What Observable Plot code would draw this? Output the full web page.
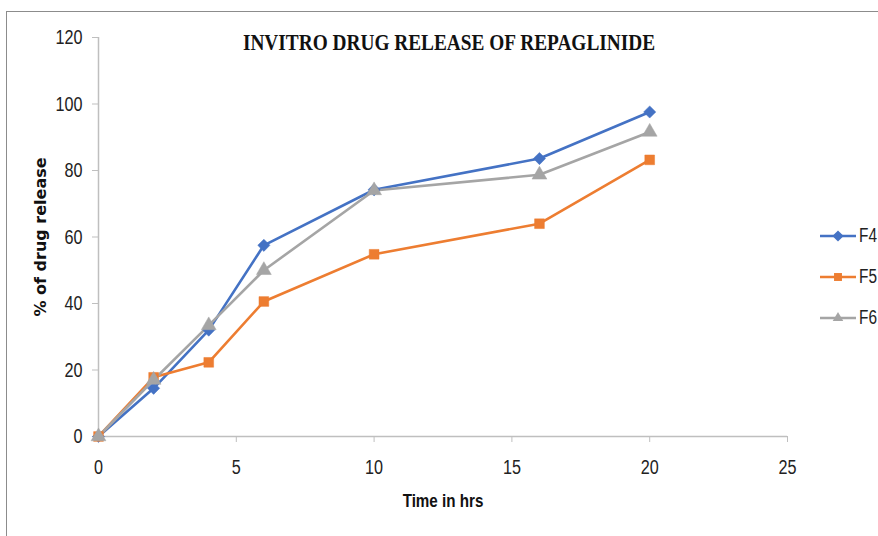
<!DOCTYPE html>
<html>
<head>
<meta charset="utf-8">
<script src="https://cdn.jsdelivr.net/npm/d3@7"></script>
<script src="https://cdn.jsdelivr.net/npm/@observablehq/plot@0.6"></script>
<style>
  html, body { margin: 0; padding: 0; background: #fff; }
  #wrap { position: relative; width: 878px; height: 536px; overflow: hidden; }
  #frame { position: absolute; left: 6px; top: 11px; width: 900px; height: 600px;
           border-left: 1.5px solid #8c8c8c; border-top: 1.5px solid #8c8c8c; }
  #title { position: absolute; left: 0; width: 898px; top: 30px; text-align: center; white-space: nowrap;
           font-family: "Liberation Serif", "Times New Roman", serif; font-weight: bold;
           font-size: 23px; line-height: 26px; color: #111; transform: scaleX(0.84); transform-origin: 449px 0; }
  #legend { position: absolute; left: 820px; top: 215px;
            font-family: "Liberation Sans", Arial, sans-serif;
            font-size: 20px; color: #222; }
  .item { display: flex; align-items: center; height: 41px; }
  .item svg { margin-right: 3px; }
  .item span { display: inline-block; transform: scaleX(0.77); transform-origin: 0 50%; }
</style>
</head>
<body>
<div id="wrap">
  <div id="frame"></div>
  <div id="chart"></div>
  <div id="title">INVITRO DRUG RELEASE OF REPAGLINIDE</div>
  <div id="legend"></div>
</div>
<script>
const time = [0, 2, 4, 6, 10, 16, 20];
const f4 = [0, 14.5, 32, 57.5, 74.2, 83.6, 97.6];
const f5 = [0, 17.8, 22.3, 40.6, 54.8, 64.0, 83.2];
const f6 = [0, 17.0, 33.4, 50.0, 74.0, 78.7, 91.6];
const seriesNames = ["F4", "F5", "F6"];
const seriesColors = ["#4472C4", "#ED7D31", "#A5A5A5"];
const seriesSymbols = ["diamond2", "square", "triangle"];
const xTicks = [0, 5, 10, 15, 20, 25];
const yTicks = [0, 20, 40, 60, 80, 100, 120];

const values = [f4, f5, f6];
const data = [];
seriesNames.forEach((s, i) => time.forEach((t, j) => data.push({series: s, time: t, value: values[i][j]})));

const tickFont = '"Liberation Sans", Arial, sans-serif';

const chart = Plot.plot({
  width: 878,
  height: 536,
  marginLeft: 98,
  marginRight: 91,
  marginTop: 37,
  marginBottom: 100,
  style: { fontFamily: tickFont, fontSize: "21px", color: "#222", background: "transparent", overflow: "visible" },
  x: { domain: [0, 25], ticks: xTicks, label: null },
  y: { domain: [0, 120], ticks: yTicks, label: null },
  color: { domain: seriesNames, range: seriesColors },
  symbol: { domain: seriesNames, range: seriesSymbols },
  marks: [
    Plot.ruleY([0], { stroke: "#bfbfbf", strokeWidth: 1.5 }),
    Plot.ruleX([0], { stroke: "#bfbfbf", strokeWidth: 1.5 }),
    Plot.axisX({ ticks: xTicks, tickSize: 6, tickPadding: 17, stroke: "#bfbfbf", strokeOpacity: 1, color: "#222", fontSize: 21, label: null }),
    Plot.axisY({ ticks: yTicks, tickSize: 6, tickPadding: 10, stroke: "#bfbfbf", strokeOpacity: 1, color: "#222", fontSize: 21, label: null }),
    Plot.axisX({ ticks: [], label: "Time in hrs", labelAnchor: "center", labelArrow: "none", labelOffset: 70,
                 fontFamily: tickFont, fontWeight: "bold", fontSize: 19, color: "#111" }),
    Plot.axisY({ ticks: [], label: "% of drug release", labelAnchor: "center", labelArrow: "none", labelOffset: 64,
                 fontFamily: "DejaVu Sans", fontWeight: "bold", fontSize: 16, color: "#111" }),
    Plot.line(data, { x: "time", y: "value", z: "series", stroke: "series", strokeWidth: 2.6 }),
    Plot.dot(data, { x: "time", y: "value", symbol: "series", fill: "series", stroke: "series", r: 5.5, strokeWidth: 0.5 })
  ]
});
document.getElementById("chart").appendChild(chart);

// condense axis texts horizontally (reference uses a narrow font)
function condense(selector, sx) {
  chart.querySelectorAll(selector).forEach(t => {
    const x = t.getAttribute("x");
    if (x != null) t.setAttribute("x", (+x) / sx);
    const tr = t.getAttribute("transform") || "";
    t.setAttribute("transform", (tr + ` scale(${sx},1)`).trim());
  });
}
condense('g[aria-label="x-axis tick label"] text', 0.77);
condense('g[aria-label="y-axis tick label"] text', 0.77);
condense('g[aria-label="x-axis label"] text', 0.8);

const legend = document.getElementById("legend");
seriesNames.forEach((s, i) => {
  const item = document.createElement("div");
  item.className = "item";
  const symbolPath = d3.symbol(
    seriesSymbols[i] === "diamond2" ? d3.symbolDiamond2 : seriesSymbols[i] === "square" ? d3.symbolSquare2 : d3.symbolTriangle2,
    80)();
  item.innerHTML = `<svg width="36" height="14" style="overflow:visible"><line x1="0" x2="36" y1="7" y2="7" stroke="${seriesColors[i]}" stroke-width="2.6"/>` +
    `<path d="${symbolPath}" transform="translate(18,7)" fill="${seriesColors[i]}"/></svg><span>${s}</span>`;
  legend.appendChild(item);
});
</script>
</body>
</html>
